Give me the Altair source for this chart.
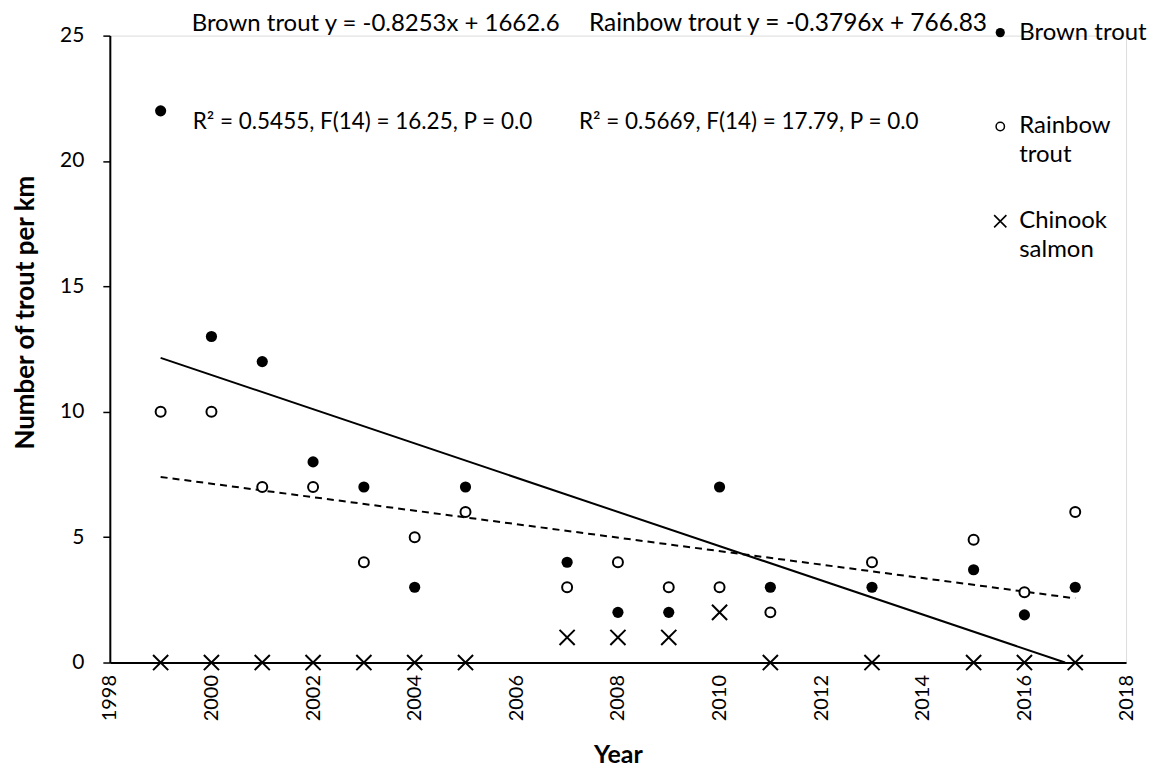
import altair as alt
import pandas as pd

# ---- data ----
years = [1999, 2000, 2001, 2002, 2003, 2004, 2005, 2007, 2008, 2009, 2010, 2011, 2013, 2015, 2016, 2017]
brown = [22, 13, 12, 8, 7, 3, 7, 4, 2, 2, 7, 3, 3, 3.7, 1.9, 3]
rainbow = [10, 10, 7, 7, 4, 5, 6, 3, 4, 3, 3, 2, 4, 4.9, 2.8, 6]
chinook = [0, 0, 0, 0, 0, 0, 0, 1, 1, 1, 2, 0, 0, 0, 0, 0]

brown_trend_years = [1999, 2016.8]
brown_trend_vals = [12.15, 0]
rainbow_trend_years = [1999, 2017]
rainbow_trend_vals = [7.4, 2.56]

x_ticks = list(range(1998, 2019, 2))
y_ticks = [0, 5, 10, 15, 20, 25]

species = ["Brown trout", "Rainbow trout", "Chinook salmon"]
legend_lines = [["Brown trout"], ["Rainbow", "trout"], ["Chinook", "salmon"]]
annotations = [
    "Brown trout y = -0.8253x + 1662.6",
    "Rainbow trout y = -0.3796x + 766.83",
    "R² = 0.5455, F(14) = 16.25, P = 0.0",
    "R² = 0.5669, F(14) = 17.79, P = 0.0",
]

FONT = "Lato"
W, H = 1018, 628
XPATH = "M-1,-1L1,1M-1,1L1,-1"

pts = pd.DataFrame({"year": years, "brown": brown, "rainbow": rainbow, "chinook": chinook})
btr = pd.DataFrame({"year": brown_trend_years, "v": brown_trend_vals})
rtr = pd.DataFrame({"year": rainbow_trend_years, "v": rainbow_trend_vals})

xscale = alt.Scale(domain=[1998, 2018], nice=False, zero=False)
yscale = alt.Scale(domain=[0, 25], nice=False)

xaxis = alt.Axis(values=x_ticks, format="d", labelAngle=-90, title="Year",
                 ticks=False, labelPadding=12, labelFont=FONT, labelFontSize=20,
                 labelColor="black", domainColor="black", domainWidth=2, grid=False,
                 titleFont=FONT, titleFontSize=25, titleFontWeight="bold", titleColor="black",
                 titleY=100, titleBaseline="alphabetic")
yaxis = alt.Axis(values=y_ticks, title="Number of trout per km", tickSize=7, tickWidth=1.5,
                 tickColor="black", labelPadding=19, labelFont=FONT, labelFontSize=21,
                 labelColor="black", domainColor="black", domainWidth=2, grid=False,
                 titleFont=FONT, titleFontSize=26, titleFontWeight="bold", titleColor="black",
                 titleX=-84, titleY=277, titleAngle=-90, titleBaseline="middle", titleAlign="center")

base = alt.Chart(pts)

brown_line = alt.Chart(btr).mark_line(color="black", strokeWidth=2).encode(
    x=alt.X("year:Q", scale=xscale, axis=xaxis),
    y=alt.Y("v:Q", scale=yscale, axis=yaxis),
)
rain_line = alt.Chart(rtr).mark_line(color="black", strokeWidth=2, strokeDash=[7, 5]).encode(
    x="year:Q", y="v:Q"
)

brown_pts = base.mark_point(shape="circle", filled=True, color="black", size=125, opacity=1).encode(
    x="year:Q", y="brown:Q")
rain_pts = base.mark_point(shape="circle", filled=True, fill="white", stroke="black",
                           strokeWidth=2, size=100, opacity=1).encode(x="year:Q", y="rainbow:Q")
chin_pts = base.mark_point(shape=XPATH, filled=False, stroke="black", strokeWidth=2,
                           size=230, opacity=1).encode(x="year:Q", y="chinook:Q")


def text_layer(s, x, y, size=24):
    return alt.Chart(pd.DataFrame({"t": [s]})).mark_text(
        align="left", baseline="middle", font=FONT, fontSize=size, color="black"
    ).encode(x=alt.value(x), y=alt.value(y), text="t:N")


ann = [
    text_layer(annotations[0], 82, -12, 24),
    text_layer(annotations[1], 480, -12, 24.5),
    text_layer(annotations[2], 83, 87, 22.5),
    text_layer(annotations[3], 470, 87, 22.5),
]

# legend (manual, to allow wrapped labels)
leg_sym_x = 892
leg_y = [-3, 91, 186]
line_gap = 29
legend_layers = []
legend_layers.append(alt.Chart(pd.DataFrame({"s": [species[0]]})).mark_point(
    shape="circle", filled=True, color="black", size=85, opacity=1).encode(
    x=alt.value(leg_sym_x), y=alt.value(leg_y[0])))
legend_layers.append(alt.Chart(pd.DataFrame({"s": [species[1]]})).mark_point(
    shape="circle", filled=True, fill="white", stroke="black", strokeWidth=1.5, size=70, opacity=1).encode(
    x=alt.value(leg_sym_x), y=alt.value(leg_y[1])))
legend_layers.append(alt.Chart(pd.DataFrame({"s": [species[2]]})).mark_point(
    shape=XPATH, filled=False, stroke="black", strokeWidth=1.6, size=150, opacity=1).encode(
    x=alt.value(leg_sym_x), y=alt.value(leg_y[2])))
for i, lines in enumerate(legend_lines):
    for j, ln in enumerate(lines):
        legend_layers.append(text_layer(ln, 911, leg_y[i] + j * line_gap, 24))

chart = alt.layer(
    brown_line, rain_line, brown_pts, rain_pts, chin_pts, *ann, *legend_layers
).properties(
    width=W, height=H,
    autosize=alt.AutoSizeParams(type="none"),
    padding={"left": 102, "top": 27, "right": 25, "bottom": 106},
).configure_view(stroke=None).configure(background="white")

chart.save("out.html", embed_options={"renderer": "svg", "actions": False})
